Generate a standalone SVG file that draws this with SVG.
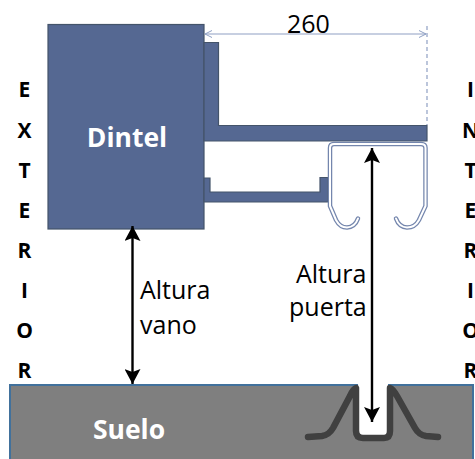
<svg xmlns="http://www.w3.org/2000/svg" width="475" height="459" viewBox="0 0 475 459">
<style>
.steel{fill:#556892;stroke:#44546a;stroke-width:1.2}
.tx{font-family:"Open Sans","Liberation Sans",sans-serif;fill:#000;font-size:25px}
.lt{font-family:"Open Sans","Liberation Sans",sans-serif;font-weight:700;font-size:21px;fill:#000;text-anchor:middle}
.wt{font-family:"Open Sans","Liberation Sans",sans-serif;font-weight:700;font-size:26.500px;fill:#fff;text-anchor:middle}
.arrow{stroke:#000;stroke-width:2.4;fill:none;marker-start:url(#ah);marker-end:url(#ah)}
.dim{stroke:#8fa0c4;stroke-width:1.2;fill:none}
</style>
<defs>
<marker id="ah" viewBox="0 0 16 16" refX="15" refY="8" markerUnits="userSpaceOnUse" markerWidth="16" markerHeight="16" orient="auto-start-reverse"><path d="M0 0L15 8L0 16L3 8Z" fill="#000"/></marker>
<marker id="dh" viewBox="0 0 8 8" refX="7" refY="4" markerUnits="userSpaceOnUse" markerWidth="8" markerHeight="8" orient="auto-start-reverse"><path d="M0 0.5L7 4L0 7.5" fill="none" stroke="#8fa0c4" stroke-width="1"/></marker>
</defs>
<g id="suelo">
<rect x="10" y="385" width="463" height="76" fill="#7f7f7f" stroke="#41719c" stroke-width="2"/>
<path d="M358 383H388V431Q388 436 383 436H364Q359 436 359 431Z" fill="#fff"/>
<text class="wt" x="129" y="439">Suelo</text>
</g>
<g id="guia-suelo">
<path d="M308 437L322 436Q329 435 333 428L350 396Q353 389 356 388V431Q356 438 363 438H384Q390 438 390 431V388Q393 389 397 396L415 428Q419 435 426 436L438 437" fill="none" stroke="#404040" stroke-width="6.5" stroke-linecap="round" stroke-linejoin="round"/>
</g>
<g id="dintel">
<rect class="steel" x="48" y="24.500" width="156" height="204.500"/>
<text class="wt" x="127" y="147">Dintel</text>
</g>
<g id="perfil">
<path class="steel" d="M204 42.500H218.500V125.500H427V141H204Z"/>
<path class="steel" d="M204 178H210V192H320V177.500H328V202H204Z"/>
</g>
<g id="carril">
<path d="M358 218.500Q355 227 347 227.500Q340 227.500 336 220L330 206V148Q330 144 334 144H421Q425.500 144 425.500 148V206L419 220Q415 227.500 407 227.500Q399 227 396 218.500" fill="none" stroke="#7486ad" stroke-width="4.500" stroke-linecap="round"/>
<path d="M358 218.500Q355 227 347 227.500Q340 227.500 336 220L330 206V148Q330 144 334 144H421Q425.500 144 425.500 148V206L419 220Q415 227.500 407 227.500Q399 227 396 218.500" fill="none" stroke="#fff" stroke-width="2" stroke-linecap="round"/>
</g>
<g id="conectores">
<path class="dim" d="M205 34H426" marker-start="url(#dh)" marker-end="url(#dh)"/>
<path class="dim" d="M427 26V125" stroke-dasharray="4 3"/>
<path class="arrow" d="M132.500 226V384"/>
<path class="arrow" d="M372 148V422"/>
</g>
<g id="textos">
<text class="tx" x="287" y="33">260</text>
<text class="tx" x="140" y="299">Altura</text>
<text class="tx" x="140" y="334">vano</text>
<text class="tx" x="296" y="283">Altura</text>
<text class="tx" x="289" y="316">puerta</text>
<g id="exterior">
<text class="lt" x="24.500" y="97">E</text><text class="lt" x="24.500" y="138">X</text><text class="lt" x="24.500" y="178">T</text><text class="lt" x="24.500" y="218">E</text><text class="lt" x="24.500" y="258">R</text><text class="lt" x="24.500" y="298">I</text><text class="lt" x="24.500" y="338">O</text><text class="lt" x="24.500" y="378">R</text>
</g>
<g id="interior">
<text class="lt" x="470.500" y="97">I</text><text class="lt" x="470.500" y="138">N</text><text class="lt" x="470.500" y="178">T</text><text class="lt" x="470.500" y="218">E</text><text class="lt" x="470.500" y="258">R</text><text class="lt" x="470.500" y="298">I</text><text class="lt" x="470.500" y="338">O</text><text class="lt" x="470.500" y="378">R</text>
</g>
</g>
</svg>
